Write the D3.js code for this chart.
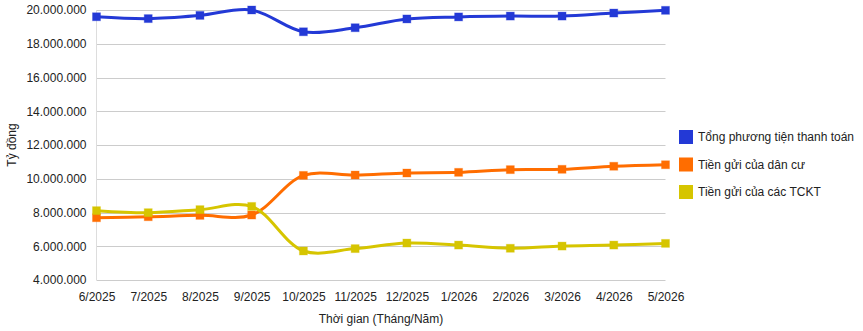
<!DOCTYPE html>
<html><head><meta charset="utf-8">
<script src="https://cdn.jsdelivr.net/npm/d3@7"></script>
<style>body{margin:0;background:#fff}svg{display:block;font-family:Arial,"Liberation Sans",sans-serif}</style>
</head><body><svg id="c" width="863" height="331"></svg>
<script>
const categories = ["6/2025","7/2025","8/2025","9/2025","10/2025","11/2025","12/2025","1/2026","2/2026","3/2026","4/2026","5/2026"];
const seriesNames = ["Tổng phương tiện thanh toán","Tiền gửi của dân cư","Tiền gửi của các TCKT"];
const tongPTTT = [19600000,19490000,19680000,20000000,18710000,18950000,19470000,19590000,19640000,19640000,19820000,19980000];
const tienGuiDanCu = [7690000,7750000,7830000,7850000,10200000,10220000,10340000,10380000,10540000,10560000,10740000,10830000];
const tienGuiTCKT = [8110000,7990000,8170000,8360000,5720000,5860000,6190000,6070000,5880000,6010000,6070000,6170000];
const yTicks = [4000000,6000000,8000000,10000000,12000000,14000000,16000000,18000000,20000000];
const colors = ["#2339d6","#ff6d00","#d6c500"];
const xTitle = "Thời gian (Tháng/Năm)";
const yTitle = "Tỷ đồng";

const svg = d3.select("#c");
const L = 96.5, R = 665.5, T = 10, B = 280;
const x = d3.scalePoint().domain(categories).range([L, R]);
const y = d3.scaleLinear().domain([4000000, 20000000]).range([B, T]);
const fmt = v => d3.format(",")(v).replace(/,/g, ".");

// gridlines
svg.append("g").selectAll("line").data(yTicks).join("line")
  .attr("x1", L).attr("x2", R).attr("y1", d => Math.round(y(d)) + 0.5).attr("y2", d => Math.round(y(d)) + 0.5)
  .attr("stroke", "#cccccc").attr("stroke-width", 1);
svg.append("line").attr("x1", 96.5).attr("x2", 96.5).attr("y1", T).attr("y2", B)
  .attr("stroke", "#dddddd");

// y axis
const ya = svg.append("g").attr("transform", `translate(${L},0)`)
  .call(d3.axisLeft(y).tickValues(yTicks).tickFormat(fmt).tickSize(0).tickPadding(10));
ya.select(".domain").remove();
ya.selectAll("text").attr("font-size", 12).attr("fill", "#222").attr("font-family", "Arial");

// x axis
const xa = svg.append("g").attr("transform", `translate(0,${B})`)
  .call(d3.axisBottom(x).tickSize(0).tickPadding(12));
xa.select(".domain").remove();
xa.selectAll("text").attr("font-size", 12).attr("fill", "#222").attr("font-family", "Arial");

// titles
svg.append("text").attr("x", (L + R) / 2).attr("y", 323).attr("text-anchor", "middle")
  .attr("font-size", 12).attr("fill", "#222").text(xTitle);
svg.append("text").attr("transform", `translate(16,${(T + B) / 2}) rotate(-90)`).attr("text-anchor", "middle")
  .attr("font-size", 12).attr("fill", "#222").text(yTitle);

const data = [tongPTTT, tienGuiDanCu, tienGuiTCKT];
const line = d3.line().x((d, i) => x(categories[i])).y(d => y(d)).curve(d3.curveCatmullRom.alpha(0.5));

data.forEach((s, k) => {
  const g = svg.append("g");
  g.append("path").attr("d", line(s)).attr("fill", "none").attr("stroke", colors[k])
    .attr("stroke-width", 3).attr("stroke-linejoin", "round");
  g.selectAll("rect").data(s).join("rect")
    .attr("x", (d, i) => x(categories[i]) - 4).attr("y", d => y(d) - 4)
    .attr("width", 8).attr("height", 8).attr("fill", colors[k])
    .attr("stroke", colors[k]).attr("stroke-opacity", 0.3).attr("stroke-width", 1);
});

// legend
const lg = svg.append("g");
seriesNames.forEach((n, k) => {
  const cy = 137 + k * 27.5;
  lg.append("rect").attr("x", 679).attr("y", cy - 7).attr("width", 14).attr("height", 14).attr("fill", colors[k]);
  lg.append("text").attr("x", 698).attr("y", cy + 4).attr("font-size", 12).attr("fill", "#222").text(n);
});
</script></body></html>
